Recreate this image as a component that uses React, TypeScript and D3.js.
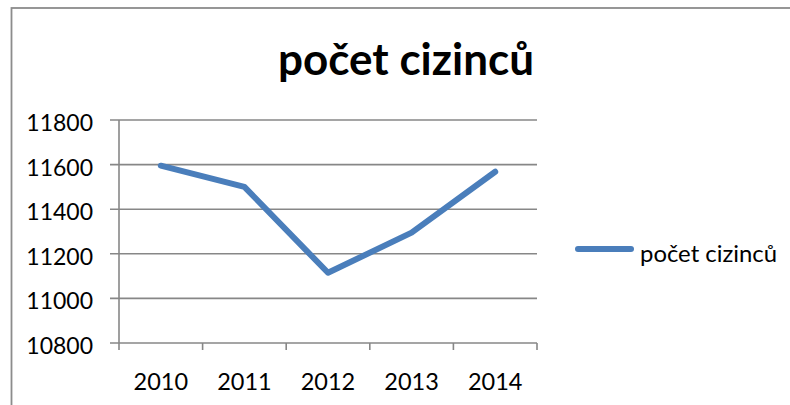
import React from "react";
import * as d3 from "d3";

const title = "počet cizinců";
const seriesName = "počet cizinců";
const years = ["2010", "2011", "2012", "2013", "2014"];
const values = [11595, 11500, 11115, 11295, 11568];
const yTicks = [10800, 11000, 11200, 11400, 11600, 11800];

export default function App() {
  const W = 790;
  const H = 405;
  const left = 119;
  const right = 537;
  const top = 120;
  const bottom = 343;
  const x = d3.scaleBand<string>().domain(years).range([left, right]);
  const y = d3.scaleLinear().domain([10800, 11800]).range([bottom, top]);
  const cx = (d: string) => (x(d) as number) + x.bandwidth() / 2;
  const line = d3
    .line<number>()
    .x((_, i) => cx(years[i]))
    .y((v) => y(v));
  const grid = "#878787";
  const font = "Lato, 'Open Sans', sans-serif";
  const boundaries = [...years.map((d) => x(d) as number), right];

  return (
    <svg
      width={W}
      height={H}
      style={{ position: "absolute", left: 0, top: 0, background: "#fff" }}
    >
      <rect x={0} y={0} width={W} height={H} fill="#fff" />
      <rect x={11.5} y={8} width={W + 20} height={H + 20} fill="none" stroke="#8c8c8c" strokeWidth={1.8} />
      <text x={406} y={75} textAnchor="middle" fontFamily={font} fontWeight={700} fontSize={44} fill="#000">
        {title}
      </text>
      {yTicks.map((t) => (
        <g key={t}>
          <line x1={110} x2={right} y1={y(t)} y2={y(t)} stroke={grid} strokeWidth={1.6} />
          <text x={93} y={y(t) + 11} textAnchor="end" fontFamily={font} fontSize={23} fill="#000">
            {t}
          </text>
        </g>
      ))}
      <line x1={left} x2={left} y1={top} y2={bottom} stroke={grid} strokeWidth={1.6} />
      {boundaries.map((b, i) => (
        <line key={i} x1={b} x2={b} y1={bottom} y2={bottom + 7} stroke={grid} strokeWidth={1.6} />
      ))}
      {years.map((d) => (
        <text key={d} x={cx(d)} y={390} textAnchor="middle" fontFamily={font} fontSize={23.5} fill="#000">
          {d}
        </text>
      ))}
      <path
        d={line(values) || ""}
        fill="none"
        stroke="#4a7ebb"
        strokeWidth={6}
        strokeLinecap="round"
        strokeLinejoin="round"
      />
      <line x1={578} x2={631} y1={249} y2={249} stroke="#4a7ebb" strokeWidth={6} strokeLinecap="round" />
      <text x={640} y={262} fontFamily={font} fontSize={24} fill="#000" textLength={137} lengthAdjust="spacingAndGlyphs">
        {seriesName}
      </text>
    </svg>
  );
}
